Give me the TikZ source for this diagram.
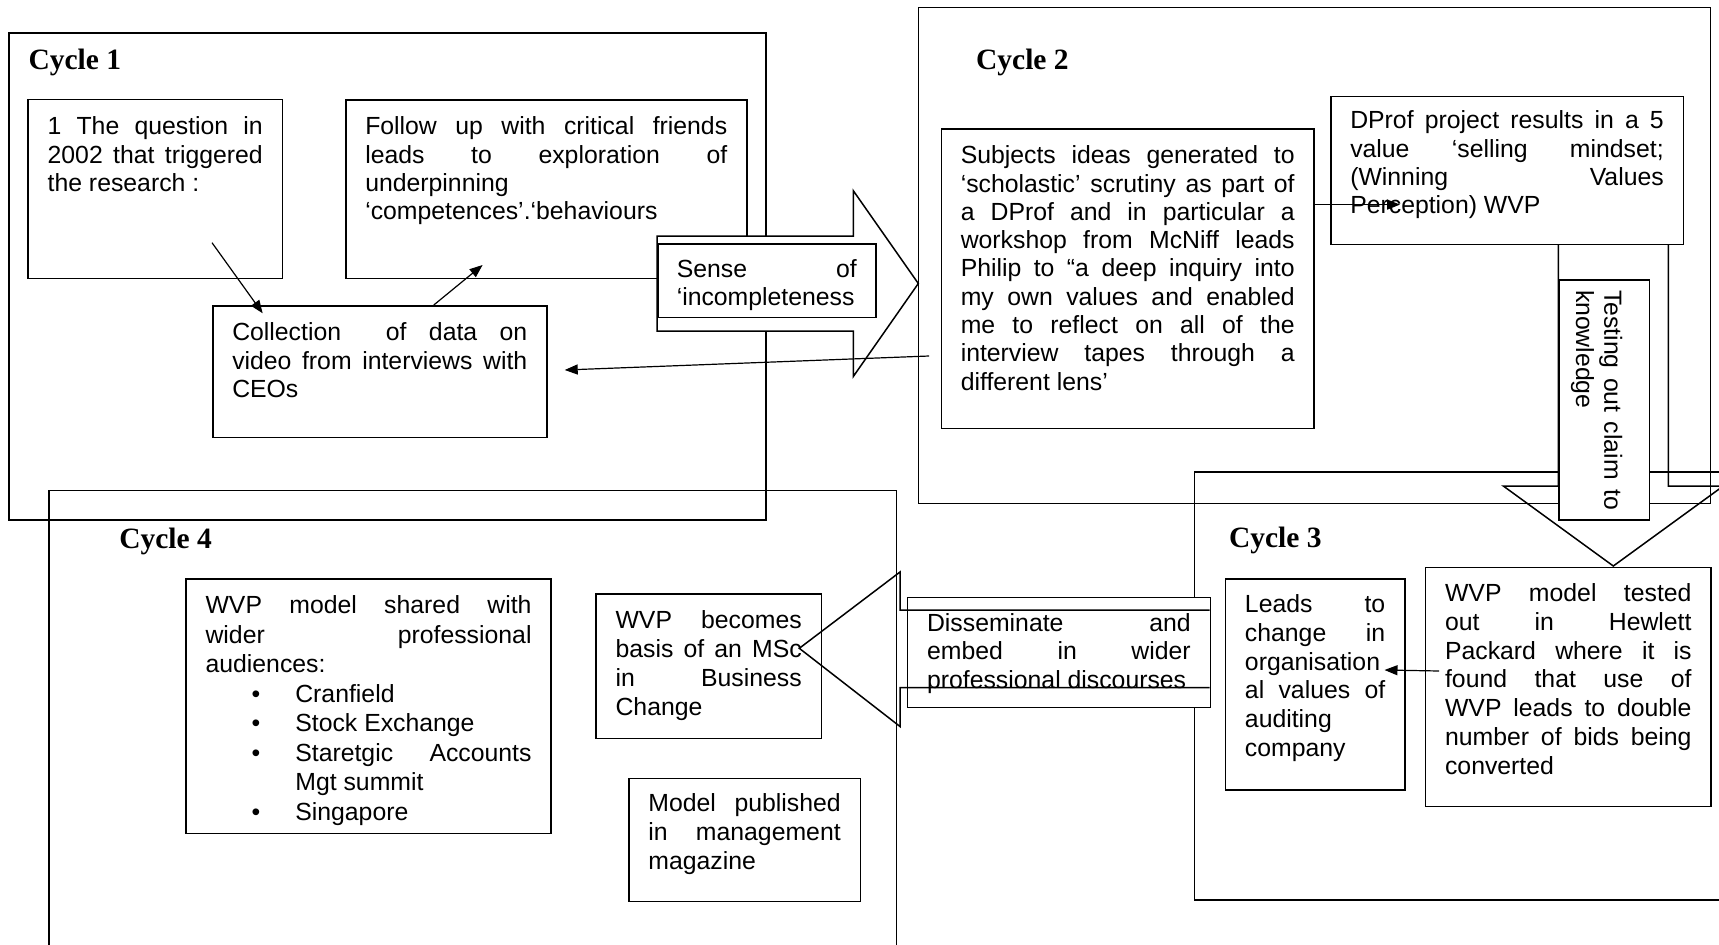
\documentclass[tikz,border=0pt]{standalone}
\usepackage{fontspec}
\setmainfont{Liberation Sans}
\newfontfamily\cyclefont{Liberation Serif}
\usetikzlibrary{arrows.meta}
\hyphenpenalty=10000
\newcommand{\blt}{\leavevmode\llap{\makebox[0pt]{\textbullet}\hspace{39.5pt}}}
\tikzset{
  cycframe/.style={line width=1.5pt},
  cyctitle/.style={anchor=base west, inner sep=0pt, font=\cyclefont\bfseries\fontsize{29.5}{34}\selectfont},
  tbox/.style={draw, fill=white, line width=1.5pt, anchor=north west, inner ysep=0pt, inner xsep=19.5pt,
    align=justify, font=\fontsize{24.8}{28.3}\selectfont},
  tboxlow/.style={tbox, font=\fontsize{24.8}{28.9}\selectfont},
  bigarr/.style={line width=1.5pt},
  pil/.style={line width=1.2pt, -{Triangle[length=13pt,width=10pt]}}
}
\begin{document}
\begin{tikzpicture}[x=1pt,y=-1pt]
\useasboundingbox (0,0) rectangle (1719,945);
\clip (0,0) rectangle (1719,945);

\draw[cycframe] (8.8,33) rectangle (766,520); %cycle 1
\draw[cycframe] (918.3,7.5) rectangle (1710.5,503.5); %cycle 2
\draw[cycframe] (1194.5,472) rectangle (1760,900); %cycle 3, right side off page
\draw[cycframe] (49,490.5) rectangle (896.5,990); %cycle 4, bottom off page

\node[cyctitle] (t1) at (28.4,69.5) {Cycle 1};
\node[cyctitle] (t2) at (975.9,69) {Cycle 2};
\node[cyctitle] (t3) at (1228.8,547) {Cycle 3};
\node[cyctitle] (t4) at (119.1,548) {Cycle 4};

%cycle 1
\node[tbox, text width=215.1pt, text height=35.3pt, text depth=143.7pt] (qbox) at (27.4,98.7)
  {1 The question in\linebreak 2002 that triggered\linebreak the research :};
\node[tbox, text width=362pt, text height=35pt, text depth=143.7pt] (follow) at (345,99)
  {Follow up with critical friends\linebreak leads to exploration of\linebreak underpinning\newline ‘competences’.‘behaviours};
\node[tbox, text width=295pt, text height=35.2pt, text depth=96.5pt] (collect) at (212,305)
  {Collection\ \ of data on\linebreak video from interviews with\linebreak CEOs};

%block arrow to cycle 2
\draw[bigarr, fill=white] (657,236) -- (853.3,236) -- (853.3,190.7) -- (918.3,283.5)
  -- (853.3,376.5) -- (853.3,331) -- (657,331) -- cycle;
\node[tbox, inner xsep=19pt, text width=180pt, text height=33.2pt, text depth=40.2pt] (sense) at (657,243.3)
  {Sense of\linebreak ‘incompleteness};

%cycle 2
\node[tbox, text width=333.9pt, text height=34.7pt, text depth=264.7pt] (subj) at (940.5,128.3)
  {Subjects ideas generated to\linebreak ‘scholastic’ scrutiny as part of\linebreak a DProf and in particular a\linebreak
   workshop from McNiff leads\linebreak Philip to “a deep inquiry into\linebreak my own values and enabled\linebreak
   me to reflect on all of the\linebreak interview tapes through a\linebreak different lens’};

%block arrow down to cycle 3
\draw[bigarr] (1558.3,243.5) -- (1558.3,486) -- (1503.3,486) -- (1613.3,566) -- (1723.3,486)
  -- (1668.3,486) -- (1668.3,243.5);
\node[tbox, text width=313.5pt, text height=32.7pt, text depth=115.3pt] (dprof) at (1330,95.5)
  {DProf project results in a 5\linebreak value ‘selling mindset;\linebreak (Winning Values\linebreak Perception) WVP};
\node[tbox, anchor=center, rotate=-90, inner xsep=10pt, text width=220pt, text height=45pt, text depth=45.3pt] (test)
  at (1604.2,400) {Testing out claim to\linebreak knowledge};

%cycle 3
\node[tboxlow, text width=140.3pt, text height=33.2pt, text depth=177.5pt] (leads) at (1224.7,578.3)
  {Leads to\linebreak change in\linebreak organisation\newline al values of\linebreak auditing\newline company};
\node[tboxlow, text width=246.5pt, text height=33.8pt, text depth=205.2pt] (tested) at (1424.8,566.7)
  {WVP model tested\linebreak out in Hewlett\linebreak Packard where it is\linebreak found that use of\linebreak
   WVP leads to double\linebreak number of bids being\linebreak converted};

%cycle 4
\node[tbox, font=\fontsize{24.8}{29.5}\selectfont, text width=326pt, text height=34.5pt, text depth=219.7pt] (shared)
  at (185.3,578.3)
  {WVP model shared with\linebreak wider professional\linebreak audiences:\par
   \leftskip=89.8pt
   \blt Cranfield\par
   \blt Stock Exchange\par
   \blt Staretgic Accounts\linebreak Mgt summit\par
   \blt Singapore\par};
\node[tboxlow, text width=186.2pt, text height=34.5pt, text depth=109.7pt] (msc) at (595.3,593.3)
  {WVP becomes\linebreak basis of an MSc\linebreak in Business\linebreak Change};
\node[tboxlow, font=\fontsize{24.8}{29}\selectfont, text width=192.3pt, text height=33.3pt, text depth=89.5pt] (mag)
  at (628.2,777.7) {Model published\linebreak in management\linebreak magazine};

%block arrow back to cycle 4
\node[tbox, text width=263.7pt, text height=34.3pt, text depth=75.9pt] (dissem) at (906.8,596.5)
  {Disseminate and\linebreak embed in wider\linebreak professional discourses};
\draw[bigarr] (1209.5,610) -- (900,610) -- (900,572) -- (799.3,648.3) -- (900,726.5)
  -- (900,687.7) -- (1209.5,687.7);

%connectors
\coordinate (qa) at (212,242.7);
\coordinate (ca) at (262.7,313.3);
\coordinate (cb) at (433.8,305);
\coordinate (fb) at (482.6,265);
\coordinate (sc) at (929.2,356);
\coordinate (cc) at (564.7,370);
\coordinate (dd) at (1400,204.6);
\coordinate (te) at (1439,671);
\coordinate (le) at (1384.5,670);
\draw[pil] (qa) -- (ca);
\draw[pil] (cb) -- (fb);
\draw[pil] (sc) -- (cc);
\draw[pil] (subj.east |- dd) -- (dd);
\draw[pil] (te) -- (le);

\end{tikzpicture}
\end{document}
